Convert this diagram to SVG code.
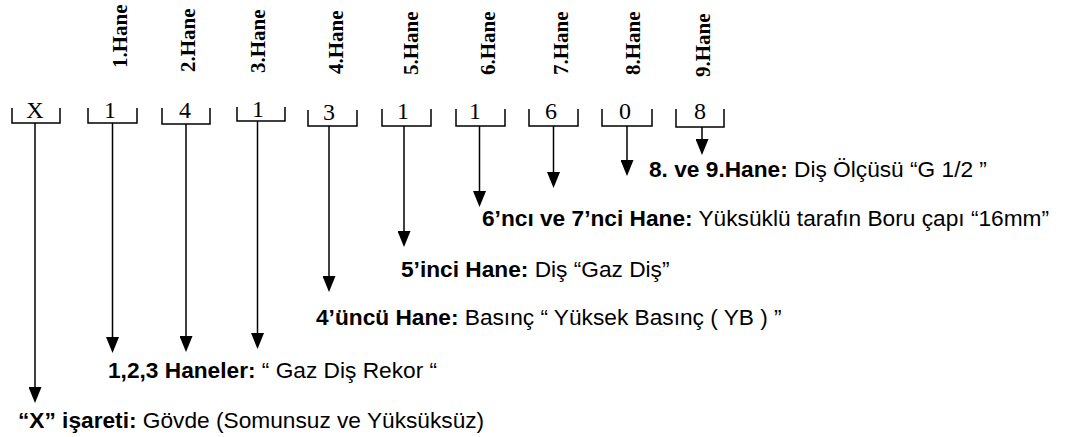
<svg xmlns="http://www.w3.org/2000/svg" width="1070" height="437" viewBox="0 0 1070 437">
<style>
.hane{font-family:"Liberation Serif","Times New Roman",serif;font-weight:bold;font-size:21px;fill:#000}
.dig{font-family:"Liberation Serif","Times New Roman",serif;font-size:24px;fill:#000;text-anchor:middle}
.br{fill:none;stroke:#000;stroke-width:1.5}
.ln{fill:none;stroke:#000;stroke-width:1.5;marker-end:url(#ah)}
.lbl{font-family:"Liberation Sans",Arial,sans-serif;font-size:22.7px;fill:#000}
.b{font-weight:bold}
</style>
<defs>
<marker id="ah" viewBox="0 0 16 13" refX="12" refY="6.5" markerWidth="16" markerHeight="13" markerUnits="userSpaceOnUse" orient="auto">
<path d="M0,0 L16,6.5 L0,13 z" fill="#000"/>
</marker>
</defs>
<g id="headers">
<text class="hane" transform="translate(127,68) rotate(-90)">1.Hane</text>
<text class="hane" transform="translate(195,72) rotate(-90)">2.Hane</text>
<text class="hane" transform="translate(265,73) rotate(-90)">3.Hane</text>
<text class="hane" transform="translate(343,74) rotate(-90)">4.Hane</text>
<text class="hane" transform="translate(418,75) rotate(-90)">5.Hane</text>
<text class="hane" transform="translate(495,75) rotate(-90)">6.Hane</text>
<text class="hane" transform="translate(568,75) rotate(-90)">7.Hane</text>
<text class="hane" transform="translate(640,75) rotate(-90)">8.Hane</text>
<text class="hane" transform="translate(710,77) rotate(-90)">9.Hane</text>
</g>
<g id="digit-x"><path class="br" d="M12,108 V123 H60 V108"/><text class="dig" x="35" y="118">X</text></g>
<g id="digit-1"><path class="br" d="M88,108 V123 H137 V108"/><text class="dig" x="110" y="118">1</text></g>
<g id="digit-2"><path class="br" d="M162,108 V124 H210 V108"/><text class="dig" x="185" y="118">4</text></g>
<g id="digit-3"><path class="br" d="M237,107 V121 H285 V107"/><text class="dig" x="258" y="117">1</text></g>
<g id="digit-4"><path class="br" d="M308,110 V126 H357 V110"/><text class="dig" x="329" y="120">3</text></g>
<g id="digit-5"><path class="br" d="M382,109 V126 H431 V109"/><text class="dig" x="403" y="119">1</text></g>
<g id="digit-6"><path class="br" d="M456,109 V126 H505 V109"/><text class="dig" x="475" y="119">1</text></g>
<g id="digit-7"><path class="br" d="M529,109 V126 H578 V109"/><text class="dig" x="551" y="119">6</text></g>
<g id="digit-8"><path class="br" d="M602,109 V126 H652 V109"/><text class="dig" x="625" y="119">0</text></g>
<g id="digit-9"><path class="br" d="M676,109 V127 H724 V109"/><text class="dig" x="700" y="119">8</text></g>
<g id="connectors">
<path class="ln" d="M35,123 V399"/>
<path class="ln" d="M112.5,123 V349"/>
<path class="ln" d="M186,124 V348"/>
<path class="ln" d="M257.5,121 V345"/>
<path class="ln" d="M329,126 V288"/>
<path class="ln" d="M404,126 V243"/>
<path class="ln" d="M479.5,126 V203"/>
<path class="ln" d="M553.5,126 V184"/>
<path class="ln" d="M627,126 V172"/>
<path class="ln" d="M702,127 V151"/>
</g>
<g id="label-x"><text class="lbl" x="18" y="428"><tspan class="b">“X” işareti:</tspan> Gövde (Somunsuz ve Yüksüksüz)</text></g>
<g id="label-123"><text class="lbl" x="108" y="378"><tspan class="b">1,2,3 Haneler:</tspan> “ Gaz Diş Rekor “</text></g>
<g id="label-4"><text class="lbl" x="316" y="325"><tspan class="b">4’üncü Hane:</tspan> Basınç “ Yüksek Basınç ( YB ) ”</text></g>
<g id="label-5"><text class="lbl" x="401" y="277"><tspan class="b">5’inci Hane:</tspan> Diş “Gaz Diş”</text></g>
<g id="label-67"><text class="lbl" x="482" y="226"><tspan class="b">6’ncı ve 7’nci Hane:</tspan> Yüksüklü tarafın Boru çapı “16mm”</text></g>
<g id="label-89"><text class="lbl" x="649" y="177"><tspan class="b">8. ve 9.Hane:</tspan> Diş Ölçüsü “G 1/2 ”</text></g>
</svg>
